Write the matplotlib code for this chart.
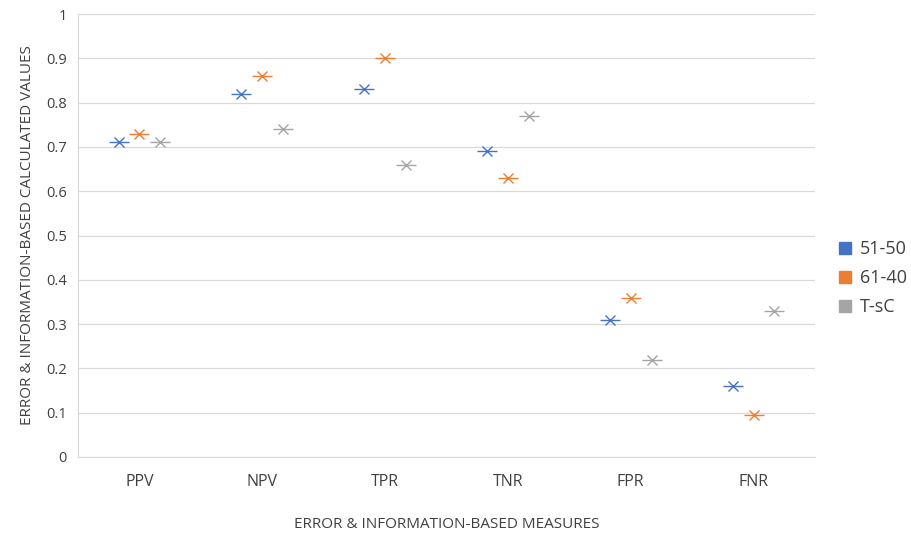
import matplotlib.pyplot as plt
import numpy as np

plt.rcParams['font.family'] = ['Open Sans', 'DejaVu Sans']

measures = ['PPV', 'NPV', 'TPR', 'TNR', 'FPR', 'FNR']
series_names = ['51-50', '61-40', 'T-sC']
vals_5150 = [0.71, 0.82, 0.83, 0.69, 0.31, 0.16]
vals_6140 = [0.73, 0.86, 0.90, 0.63, 0.36, 0.095]
vals_tsc = [0.71, 0.74, 0.66, 0.77, 0.22, 0.33]
colors = ['#4472C4', '#ED7D31', '#A5A5A5']

fig = plt.figure(figsize=(9.12, 5.33), dpi=100)
ax = fig.add_axes([78 / 912, 1 - 457 / 533, 737 / 912, 443 / 533])

x = np.arange(len(measures))
offsets = [-0.17, 0.0, 0.17]
for vals, off, c, name in zip([vals_5150, vals_6140, vals_tsc], offsets, colors, series_names):
    ax.plot(x + off, vals, linestyle='none', marker='x', markersize=7,
            markeredgewidth=1.0, color=c)
    ax.plot(x + off, vals, linestyle='none', marker='_', markersize=15,
            markeredgewidth=1.0, color=c)
    ax.plot([], [], linestyle='none', marker='s', markersize=9, color=c, label=name)

ax.set_xlim(-0.5, len(measures) - 0.5)
ax.set_ylim(0, 1)
ax.set_yticks(np.arange(0, 1.01, 0.1))
ax.set_yticklabels(['0'] + ['%.1f' % v for v in np.arange(0.1, 1.0, 0.1)] + ['1'])
ax.set_xticks(x)
ax.set_xticklabels(measures)
ax.tick_params(axis='both', length=0, labelsize=10.5, colors='#404040', pad=8)
ax.tick_params(axis='x', labelsize=11.5, pad=12)
ax.grid(axis='y', color='#D9D9D9', linewidth=0.9)
ax.set_axisbelow(True)
for s in ['top', 'right']:
    ax.spines[s].set_visible(False)
ax.spines['left'].set_color('#D9D9D9')
ax.spines['bottom'].set_color('#D9D9D9')

ax.set_xlabel('ERROR & INFORMATION-BASED MEASURES', fontsize=11, color='#404040', labelpad=20)
ax.set_ylabel('ERROR & INFORMATION-BASED CALCULATED VALUES', fontsize=11, color='#404040', labelpad=8)

leg = fig.legend(loc='center left', bbox_to_anchor=(822 / 912, 1 - 278 / 533), frameon=False,
                 fontsize=13, handlelength=0.8, handletextpad=0.4, labelspacing=0.6)
for t in leg.get_texts():
    t.set_color('#404040')

fig.savefig('out.png', dpi=100)
